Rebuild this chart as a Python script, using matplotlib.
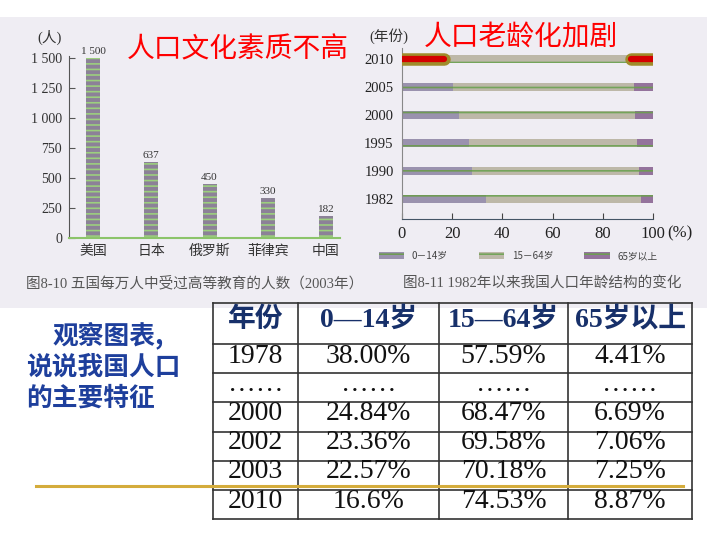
import matplotlib
matplotlib.use("Agg")
import matplotlib.pyplot as plt
from matplotlib.patches import Rectangle, Patch
from matplotlib.ticker import FuncFormatter, FixedLocator

plt.rcParams['font.family'] = ['Liberation Serif', 'Noto Sans CJK SC', 'DejaVu Sans']
plt.rcParams['hatch.linewidth'] = 1.2

CJK = ['Noto Sans CJK SC', 'DejaVu Sans']
SER = ['Liberation Serif', 'Noto Sans CJK SC', 'DejaVu Sans']

# ---------------- data ----------------
countries = ["美国", "日本", "俄罗斯", "菲律宾", "中国"]
edu_per_10k = [1500, 637, 450, 330, 182]
edu_yticks = [0, 250, 500, 750, 1000, 1250, 1500]

years = ["1982", "1990", "1995", "2000", "2005", "2010"]
age_0_14 = [33.6, 27.7, 26.6, 22.9, 20.3, 16.6]
age_15_64 = [61.5, 66.7, 67.2, 70.1, 72.0, 74.53]
age_65 = [4.9, 5.6, 6.2, 7.0, 7.7, 8.87]
pct_ticks = [0, 20, 40, 60, 80, 100]
age_groups = ["0－14岁", "15－64岁", "65岁以上"]

table_header = ["年份", "0—14岁", "15—64岁", "65岁以上"]
table_rows = [
    ["1978", "38.00%", "57.59%", "4.41%"],
    ["……", "……", "……", "……"],
    ["2000", "24.84%", "68.47%", "6.69%"],
    ["2002", "23.36%", "69.58%", "7.06%"],
    ["2003", "22.57%", "70.18%", "7.25%"],
    ["2010", "16.6%", "74.53%", "8.87%"],
]

W, H = 720, 540
fig = plt.figure(figsize=(7.2, 5.4), dpi=100)
fig.patch.set_facecolor('white')

# background / layout axes in pixel coordinates
bg = fig.add_axes([0, 0, 1, 1], zorder=0)
bg.set_xlim(0, W)
bg.set_ylim(H, 0)
bg.axis('off')
bg.add_patch(Rectangle((0, 17), 707, 291, facecolor='#efedf3', edgecolor='none'))

def fx(px):
    return px / W

def fy(py):
    return 1 - py / H

# ---------------- left chart ----------------
ax1 = fig.add_axes([fx(69), fy(238), fx(340) - fx(69), fy(56) - fy(238)], zorder=2)
ax1.set_facecolor('none')
x1 = list(range(len(countries)))
ax1.bar(x1, edu_per_10k, width=0.24, color='#8c8198', edgecolor='#9ccf7e',
        hatch='---', linewidth=0)
for xi, v in zip(x1, edu_per_10k):
    ax1.text(xi, v + 18, f"{v:,}".replace(",", " "), ha='center', va='bottom',
             fontsize=8, color='#333333', family=SER)
ax1.set_xlim(-0.412, 4.24)
ax1.set_ylim(0, 1520)
ax1.yaxis.set_major_locator(FixedLocator(edu_yticks))
ax1.yaxis.set_major_formatter(FuncFormatter(lambda v, p: f"{int(v):,}".replace(",", " ")))
ax1.set_xticks(x1)
ax1.set_xticklabels(countries, family=CJK, fontsize=10, color='#333333')
ax1.tick_params(axis='x', length=0, pad=4)
ax1.tick_params(axis='y', direction='in', length=4, labelsize=10, labelcolor='#333333',
                color='#555555', pad=5)
for s in ['top', 'right']:
    ax1.spines[s].set_visible(False)
ax1.spines['left'].set_color('#555555')
ax1.spines['bottom'].set_color('#8cc46a')
ax1.spines['bottom'].set_linewidth(1.5)

# ---------------- right chart ----------------
ax2 = fig.add_axes([fx(402), fy(219), fx(653) - fx(402), fy(48) - fy(219)], zorder=2)
ax2.set_facecolor('none')
y2 = list(range(len(years)))
left2 = [a + b for a, b in zip(age_0_14, age_15_64)]
ax2.barh(y2, age_0_14, height=0.3, color='#9a92ae', edgecolor='#6f9a55', hatch='--', linewidth=0)
ax2.barh(y2, age_15_64, left=age_0_14, height=0.3, color='#bdb8a8', edgecolor='#74a45a', hatch='--', linewidth=0)
ax2.barh(y2, age_65, left=left2, height=0.3, color='#94739c', edgecolor='#6f9a55', hatch='--', linewidth=0)
# red highlight on the latest year
yl = y2[-1]
for xs in ([0, age_0_14[-1]], [100 - age_65[-1], 100]):
    ax2.plot(xs, [yl, yl], color='#a08c2a', linewidth=9, solid_capstyle='round', zorder=5)
    ax2.plot(xs, [yl, yl], color='#d40000', linewidth=4.5, solid_capstyle='round', zorder=6)
ax2.set_xlim(0, 100)
ax2.set_ylim(-0.71, 5.4)
ax2.set_yticks(y2)
ax2.set_yticklabels(years, fontsize=10.5, color='#222222', family=SER)
ax2.set_xticks(pct_ticks)
ax2.set_xticklabels([str(t) for t in pct_ticks], fontsize=12, color='#222222', family=SER)
ax2.tick_params(axis='y', length=0, pad=6)
ax2.tick_params(axis='x', direction='in', length=4, color='#444444', pad=5)
for s in ['top', 'right']:
    ax2.spines[s].set_visible(False)
ax2.spines['left'].set_color('#888888')
ax2.spines['left'].set_linewidth(0.8)
ax2.spines['bottom'].set_color('#445566')

handles = [Patch(facecolor='#9a92ae', edgecolor='#6f9a55', hatch='--', linewidth=0),
           Patch(facecolor='#bdb8a8', edgecolor='#74a45a', hatch='--', linewidth=0),
           Patch(facecolor='#94739c', edgecolor='#6f9a55', hatch='--', linewidth=0)]
fig.legend(handles, age_groups, loc='center', bbox_to_anchor=(fx(518), fy(256)), ncol=3,
           frameon=False, prop={'family': CJK, 'size': 7}, handlelength=2.6,
           handleheight=0.6, columnspacing=3.2, handletextpad=0.8,
           labelcolor='#444444')

# ---------------- titles & captions (layout axes on top) ----------------
top = fig.add_axes([0, 0, 1, 1], zorder=10)
top.set_xlim(0, W)
top.set_ylim(H, 0)
top.axis('off')
top.set_facecolor('none')

top.text(667, 233, "(%)", fontsize=12, color='#222222', ha='left', va='center', family=SER)
top.text(50, 37, "(人)", fontsize=10.5, ha='center', va='center', family=SER, color='#333333')
top.text(389, 36, "(年份)", fontsize=10.5, ha='center', va='center', family=SER, color='#333333')
top.text(238, 49, "人口文化素质不高", fontsize=20, color='#ff0000', ha='center', va='center', family=CJK)
top.text(521, 37, "人口老龄化加剧", fontsize=20, color='#ff0000', ha='center', va='center', family=CJK)
top.text(195, 283, "图8-10 五国每万人中受过高等教育的人数（2003年）", fontsize=10.5, color='#555555',
         ha='center', va='center', family=SER)
top.text(542, 283, "图8-11 1982年以来我国人口年龄结构的变化", fontsize=10.5, color='#555555',
         ha='center', va='center', family=SER)

# left blue prompt
blue = '#1e3f9c'
top.text(53, 335, "观察图表,", fontsize=18.5, fontweight='bold', color=blue, ha='left', va='center', family=CJK)
top.text(26, 367, "说说我国人口", fontsize=18.5, fontweight='bold', color=blue, ha='left', va='center', family=CJK)
top.text(26, 398, "的主要特征", fontsize=18.5, fontweight='bold', color=blue, ha='left', va='center', family=CJK)

# ---------------- table ----------------
col_edges = [213, 298, 439, 568, 692]
row_edges = [303, 344, 373, 402, 432, 461, 490, 519]
lc = '#333333'
for xe in col_edges:
    top.plot([xe, xe], [row_edges[0], row_edges[-1]], color=lc, linewidth=1.2)
for ye in row_edges:
    top.plot([col_edges[0], col_edges[-1]], [ye, ye], color=lc, linewidth=1.2)
col_centers = [(a + b) / 2 for a, b in zip(col_edges[:-1], col_edges[1:])]
for c, h in zip(col_centers, table_header):
    top.text(c, 327, h, fontsize=20, fontweight='bold', color='#17306a', ha='center',
             va='baseline', family=SER)
row_baselines = [363, 391, 420, 449, 478, 508]
for yb, row in zip(row_baselines, table_rows):
    for c, t in zip(col_centers, row):
        top.text(c, yb, t, fontsize=20, color='#111111', ha='center', va='baseline', family=SER)

# gold line
top.plot([36, 683], [486, 486], color='#d4ac3c', linewidth=2.2, zorder=12)

fig.savefig("out.png", dpi=100)
